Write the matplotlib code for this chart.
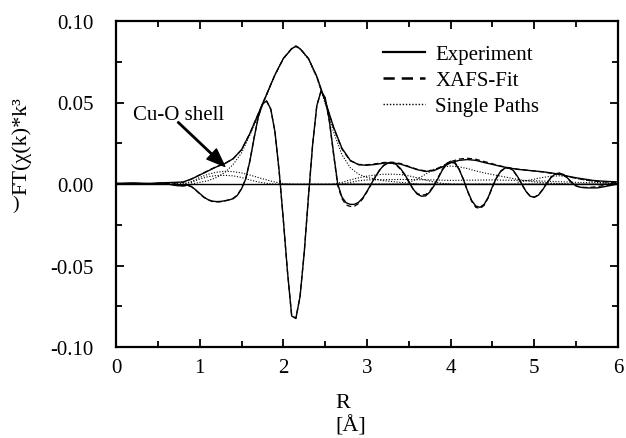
import matplotlib
matplotlib.use("Agg")
import matplotlib.pyplot as plt
from matplotlib.lines import Line2D
from matplotlib.ticker import MultipleLocator

plt.rcParams['font.family'] = ['Liberation Serif', 'DejaVu Serif']

# R grid for the real (oscillating) parts
r_re = [i * 0.05 for i in range(121)]
exp_re = [0.0000, 0.0001, 0.0003, 0.0004, 0.0005, 0.0004, 0.0002, 0.0000, -0.0001, 0.0002,
          0.0005, 0.0006, 0.0003, -0.0003, -0.0008, -0.0011, -0.0010, -0.0007, -0.0015, -0.0035,
          -0.0058, -0.0080, -0.0096, -0.0105, -0.0108, -0.0107, -0.0103, -0.0098, -0.0090, -0.0070,
          -0.0030, 0.0030, 0.0140, 0.0280, 0.0410, 0.0490, 0.0510, 0.0460, 0.0320, 0.0080,
          -0.0220, -0.0540, -0.0810, -0.0825, -0.0690, -0.0420, -0.0080, 0.0240, 0.0480, 0.0570,
          0.0530, 0.0390, 0.0190, 0.0000, -0.0080, -0.0115, -0.0125, -0.0125, -0.0112, -0.0085,
          -0.0045, 0.0000, 0.0045, 0.0085, 0.0115, 0.0128, 0.0130, 0.0120, 0.0095, 0.0060,
          0.0015, -0.0030, -0.0062, -0.0075, -0.0073, -0.0050, -0.0012, 0.0035, 0.0085, 0.0120,
          0.0133, 0.0128, 0.0090, 0.0030, -0.0040, -0.0100, -0.0135, -0.0143, -0.0125, -0.0080,
          -0.0015, 0.0040, 0.0080, 0.0098, 0.0100, 0.0082, 0.0045, 0.0000, -0.0045, -0.0075,
          -0.0082, -0.0068, -0.0035, 0.0005, 0.0040, 0.0062, 0.0067, 0.0058, 0.0035, 0.0008,
          -0.0012, -0.0020, -0.0023, -0.0024, -0.0024, -0.0024, -0.0020, -0.0015, -0.0010, -0.0005,
          0.0000]
fit_re = [0.0000, 0.0000, 0.0001, 0.0002, 0.0002, 0.0002, 0.0001, 0.0000, 0.0000, 0.0001,
          0.0002, 0.0002, 0.0001, -0.0002, -0.0006, -0.0010, -0.0012, -0.0010, -0.0016, -0.0036,
          -0.0060, -0.0082, -0.0098, -0.0107, -0.0110, -0.0109, -0.0104, -0.0097, -0.0088, -0.0068,
          -0.0028, 0.0032, 0.0142, 0.0282, 0.0410, 0.0490, 0.0508, 0.0458, 0.0318, 0.0078,
          -0.0222, -0.0540, -0.0808, -0.0823, -0.0688, -0.0418, -0.0078, 0.0242, 0.0480, 0.0568,
          0.0526, 0.0384, 0.0182, -0.0008, -0.0090, -0.0128, -0.0138, -0.0136, -0.0120, -0.0090,
          -0.0048, -0.0002, 0.0044, 0.0084, 0.0114, 0.0127, 0.0128, 0.0116, 0.0090, 0.0055,
          0.0012, -0.0030, -0.0058, -0.0068, -0.0065, -0.0044, -0.0008, 0.0040, 0.0090, 0.0126,
          0.0140, 0.0134, 0.0094, 0.0032, -0.0042, -0.0106, -0.0143, -0.0151, -0.0131, -0.0084,
          -0.0018, 0.0038, 0.0078, 0.0096, 0.0098, 0.0080, 0.0043, -0.0002, -0.0046, -0.0074,
          -0.0080, -0.0066, -0.0033, 0.0006, 0.0041, 0.0062, 0.0066, 0.0056, 0.0033, 0.0006,
          -0.0012, -0.0019, -0.0021, -0.0021, -0.0019, -0.0016, -0.0012, -0.0008, -0.0005, -0.0002,
          0.0000]

# R grid for the magnitudes
r_mag = [0.0, 0.1, 0.2, 0.3, 0.4, 0.5, 0.6, 0.7, 0.8, 0.9,
         1.0, 1.1, 1.2, 1.3, 1.4, 1.5, 1.6, 1.7, 1.8, 1.9,
         2.0, 2.1, 2.15, 2.2, 2.3, 2.4, 2.5, 2.6, 2.7, 2.8, 2.9,
         3.0, 3.1, 3.2, 3.3, 3.4, 3.5, 3.6, 3.7, 3.8, 3.9,
         4.0, 4.1, 4.2, 4.3, 4.4, 4.5, 4.6, 4.7, 4.8, 4.9,
         5.0, 5.1, 5.2, 5.3, 5.4, 5.5, 5.6, 5.7, 5.8, 5.9, 6.0]
exp_mag = [0.0005, 0.0005, 0.0006, 0.0005, 0.0004, 0.0006, 0.0008, 0.0010, 0.0012, 0.0030,
           0.0055, 0.0080, 0.0105, 0.0125, 0.0155, 0.0210, 0.0310, 0.0430, 0.0550, 0.0670,
           0.0770, 0.0830, 0.0845, 0.0830, 0.0770, 0.0660, 0.0510, 0.0350, 0.0220, 0.0145, 0.0118,
           0.0115, 0.0120, 0.0128, 0.0130, 0.0122, 0.0105, 0.0088, 0.0077, 0.0082, 0.0105,
           0.0130, 0.0145, 0.0150, 0.0145, 0.0132, 0.0120, 0.0108, 0.0098, 0.0090, 0.0085,
           0.0080, 0.0075, 0.0068, 0.0060, 0.0048, 0.0038, 0.0030, 0.0022, 0.0018, 0.0015, 0.0013]
fit_mag = [0.0002, 0.0002, 0.0002, 0.0002, 0.0002, 0.0002, 0.0003, 0.0005, 0.0010, 0.0030,
           0.0056, 0.0082, 0.0107, 0.0126, 0.0155, 0.0210, 0.0310, 0.0430, 0.0550, 0.0670,
           0.0770, 0.0832, 0.0847, 0.0832, 0.0770, 0.0658, 0.0506, 0.0345, 0.0215, 0.0142, 0.0120,
           0.0118, 0.0124, 0.0132, 0.0134, 0.0126, 0.0108, 0.0090, 0.0080, 0.0086, 0.0110,
           0.0137, 0.0153, 0.0158, 0.0152, 0.0138, 0.0124, 0.0110, 0.0099, 0.0091, 0.0085,
           0.0080, 0.0074, 0.0066, 0.0058, 0.0046, 0.0035, 0.0026, 0.0019, 0.0014, 0.0011, 0.0009]

# single scattering paths (magnitudes)
r_p1 = [0.0, 0.8, 0.9, 1.0, 1.1, 1.2, 1.3, 1.4, 1.5, 1.6, 1.7, 1.8, 1.9, 2.0, 2.1, 6.0]
p1 = [0.0, 0.0, 0.0015, 0.0040, 0.0060, 0.0072, 0.0078, 0.0076, 0.0068, 0.0055, 0.0040, 0.0025, 0.0012, 0.0003, 0.0, 0.0]
r_p2 = [0.0, 0.8, 0.9, 1.0, 1.1, 1.2, 1.3, 1.4, 1.5, 1.6, 1.7, 1.8, 1.9, 6.0]
p2 = [0.0, 0.0, 0.0010, 0.0030, 0.0045, 0.0052, 0.0053, 0.0050, 0.0040, 0.0025, 0.0012, 0.0004, 0.0, 0.0]
r_p3 = [0.9, 1.0, 1.1, 1.2, 1.3, 1.4, 1.5, 1.6, 1.7, 1.8, 1.9, 2.0, 2.1, 2.15, 2.2, 2.3, 2.4, 2.5,
        2.6, 2.7, 2.8, 2.9, 3.0, 3.1, 3.2, 3.4, 3.6]
p3 = [0.0, 0.0010, 0.0020, 0.0040, 0.0070, 0.0120, 0.0190, 0.0300, 0.0420, 0.0545, 0.0668, 0.0768,
      0.0828, 0.0843, 0.0828, 0.0766, 0.0652, 0.0495, 0.0320, 0.0180, 0.0100, 0.0060, 0.0040,
      0.0030, 0.0020, 0.0010, 0.0]
r_p4 = [2.6, 2.7, 2.8, 2.9, 3.0, 3.1, 3.2, 3.3, 3.4, 3.5, 3.6, 3.7, 3.8, 3.9, 4.0]
p4 = [0.0, 0.0010, 0.0025, 0.0038, 0.0048, 0.0055, 0.0060, 0.0060, 0.0058, 0.0050, 0.0038, 0.0025, 0.0012, 0.0004, 0.0]
r_p5 = [2.7, 2.8, 2.9, 3.0, 3.4, 3.8, 4.0, 4.5, 5.0, 5.5, 6.0]
p5 = [0.0, 0.0010, 0.0020, 0.0025, 0.0028, 0.0025, 0.0022, 0.0025, 0.0020, 0.0010, 0.0005]
r_p6 = [3.5, 3.6, 3.7, 3.8, 3.9, 4.0, 4.1, 4.2, 4.3, 4.4, 4.5, 4.6, 4.7, 4.8, 4.9, 5.0, 5.2, 5.4]
p6 = [0.0010, 0.0030, 0.0060, 0.0090, 0.0105, 0.0110, 0.0105, 0.0095, 0.0080, 0.0068, 0.0058,
      0.0048, 0.0038, 0.0028, 0.0020, 0.0013, 0.0005, 0.0]
r_p7 = [4.8, 4.9, 5.0, 5.1, 5.2, 5.3, 5.4, 5.5, 5.6, 5.7, 5.8, 5.9, 6.0]
p7 = [0.0010, 0.0020, 0.0030, 0.0040, 0.0048, 0.0050, 0.0045, 0.0035, 0.0025, 0.0015, 0.0008, 0.0003, 0.0]

legend_labels = ["Experiment", "XAFS-Fit", "Single Paths"]
paths = [(r_p1, p1), (r_p2, p2), (r_p3, p3), (r_p4, p4), (r_p5, p5), (r_p6, p6), (r_p7, p7)]


fig = plt.figure(figsize=(6.26, 4.39), dpi=100)
ax = fig.add_axes([116 / 626, 1 - 348 / 439, 502 / 626, 326 / 439])

ax.axhline(0, color="black", lw=1.0)
ax.plot(r_mag, exp_mag, color="black", lw=1.0)
ax.plot(r_re, exp_re, color="black", lw=1.0)
ax.plot(r_mag, fit_mag, color="black", lw=0.9, ls=(0, (4, 2.5)))
ax.plot(r_re, fit_re, color="black", lw=0.9, ls=(0, (4, 2.5)))
for rr, pp in paths:
    ax.plot(rr, pp, color="black", lw=0.8, ls=(0, (1, 1.5)))

ax.set_xlim(0, 6)
ax.set_ylim(-0.10, 0.10)
ax.xaxis.set_major_locator(MultipleLocator(1))
ax.xaxis.set_minor_locator(MultipleLocator(0.5))
ax.yaxis.set_minor_locator(MultipleLocator(0.025))
ax.set_yticks([-0.10, -0.05, 0.0, 0.05, 0.10])
ax.set_yticklabels(["-0.10", "-0.05", "0.00", "0.05", "0.10"])
ax.tick_params(which="both", direction="in", top=True, right=True, labelsize=15, width=1.3)
ax.tick_params(axis="x", which="major", length=6, pad=8)
ax.tick_params(axis="x", which="minor", length=4)
ax.tick_params(axis="y", which="major", length=6, pad=16)
ax.tick_params(axis="y", which="minor", length=4)
for s in ax.spines.values():
    s.set_linewidth(1.6)

# legend handles drawn a bit heavier, like the reference
handles = [Line2D([], [], color="black", lw=1.6),
           Line2D([], [], color="black", lw=1.8, ls=(0, (4.5, 2.8))),
           Line2D([], [], color="black", lw=1.0, ls=(0, (1, 1.3)))]
ax.legend(handles, legend_labels, loc="upper left", bbox_to_anchor=(0.532, 0.927), frameon=False,
          fontsize=15, handlelength=2.0, handletextpad=0.5, labelspacing=0.3, borderpad=0,
          borderaxespad=0)

ax.annotate("", xy=(1.30, 0.0108), xytext=(0.74, 0.038),
            arrowprops=dict(facecolor="black", edgecolor="black", width=1.0, headwidth=10,
                            headlength=13, shrink=0.0))
ax.text(0.75, 0.0428, "Cu-O shell", ha="center", va="center", fontsize=15)

fig.text(22 / 626, 1 - 195 / 439, "FT(χ(k)*k³", rotation=90, ha="center", va="bottom", fontsize=16)
fig.text(16 / 626, 1 - 196 / 439, ")", ha="center", va="top", fontsize=14)
fig.text(335 / 626, 1 - 394 / 439, "R", ha="left", va="top", fontsize=16)
fig.text(335 / 626, 1 - 416 / 439, "[Å]", ha="left", va="top", fontsize=16)

fig.savefig("out.png", dpi=100)
